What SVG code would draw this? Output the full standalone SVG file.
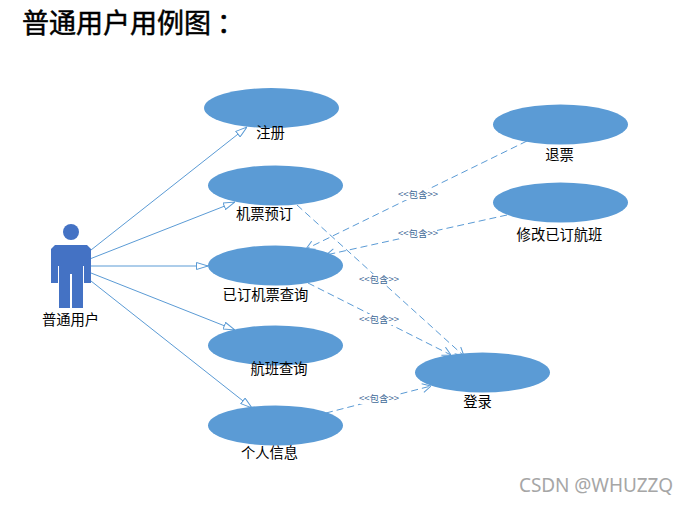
<svg xmlns="http://www.w3.org/2000/svg" width="688" height="507" viewBox="0 0 688 507">
<style>
text{font-family:"Noto Sans CJK SC","Liberation Sans",sans-serif;fill:#000}
.uc{fill:#5b9bd5}
.t{font-size:14.3px;text-anchor:middle}
.title{font-size:27px;stroke:#000;stroke-width:.5px}
.a{fill:none;stroke:#5b9bd5;stroke-width:1;marker-end:url(#tri)}
.d{fill:none;stroke:#5b9bd5;stroke-width:1;stroke-dasharray:7 4;marker-end:url(#open)}
.lb{font-size:9.5px;fill:#3f6a98;text-anchor:middle}
.bg{fill:#fff}
.wm{font-family:"Noto Sans","Liberation Sans",sans-serif;font-size:19px;fill:#a6a6a6}
</style>
<defs>
<marker id="tri" viewBox="0 0 12 8" refX="12" refY="4" markerWidth="12" markerHeight="8" markerUnits="userSpaceOnUse" orient="auto"><path d="M0.5 0.5L12 4L0.5 7.5Z" fill="#fff" stroke="#5b9bd5"/></marker>
<marker id="open" viewBox="0 0 9 10" refX="9" refY="5" markerWidth="9" markerHeight="10" markerUnits="userSpaceOnUse" orient="auto"><path d="M0.5 0.5L9 5L0.5 9.5" fill="none" stroke="#5b9bd5"/></marker>
</defs>
<rect width="688" height="507" fill="#fff"/>
<text class="title" x="22" y="33">普通用户用例图<tspan dx="6">：</tspan></text>
<g id="connectors">
<path class="a" d="M91 250L247 127"/>
<path class="a" d="M91 258.5L235 202"/>
<path class="a" d="M91 266H208"/>
<path class="a" d="M91 273L235 330"/>
<path class="a" d="M91 281L252 408"/>
<path class="d" d="M527 141L306 249"/>
<path class="d" d="M507 215L326 255"/>
<path class="d" d="M297 205L464 356"/>
<path class="d" d="M308 283L451 355"/>
<path class="d" d="M326 413L431 386"/>
<g>
<rect class="bg" x="399" y="189" width="38" height="11"/><text class="lb" x="418" y="198">&lt;&lt;包含&gt;&gt;</text>
<rect class="bg" x="399" y="228" width="38" height="11"/><text class="lb" x="418" y="236.500">&lt;&lt;包含&gt;&gt;</text>
<rect class="bg" x="360" y="274" width="38" height="11"/><text class="lb" x="379" y="282.500">&lt;&lt;包含&gt;&gt;</text>
<rect class="bg" x="360" y="314" width="38" height="11"/><text class="lb" x="379" y="322.500">&lt;&lt;包含&gt;&gt;</text>
<rect class="bg" x="360" y="393" width="38" height="11"/><text class="lb" x="379" y="402">&lt;&lt;包含&gt;&gt;</text>
</g>
</g>
<g id="actor">
<circle cx="71" cy="232" r="8" fill="#4472c4"/>
<path fill="#4472c4" d="M55 245H87L91 249V283H84V266H83V308H72V274H70V308H59V266H58V283H51V249Z"/>
<text class="t" x="70.500" y="325">普通用户</text>
</g>
<g id="uc-register"><ellipse class="uc" cx="271.5" cy="108" rx="67.5" ry="20"/><text class="t" x="270.500" y="138">注册</text></g>
<g id="uc-book"><ellipse class="uc" cx="275.5" cy="185.500" rx="67.5" ry="20"/><text class="t" x="264.500" y="219">机票预订</text></g>
<g id="uc-query"><ellipse class="uc" cx="275.5" cy="265.500" rx="67.5" ry="20"/><text class="t" x="265.500" y="300">已订机票查询</text></g>
<g id="uc-flight"><ellipse class="uc" cx="275.5" cy="345.500" rx="67.5" ry="20"/><text class="t" x="279" y="374">航班查询</text></g>
<g id="uc-info"><ellipse class="uc" cx="275.5" cy="425.500" rx="67.5" ry="20"/><text class="t" x="269.500" y="458">个人信息</text></g>
<g id="uc-refund"><ellipse class="uc" cx="560.5" cy="124.500" rx="67.5" ry="20"/><text class="t" x="559.500" y="160">退票</text></g>
<g id="uc-change"><ellipse class="uc" cx="560.5" cy="202.500" rx="67.5" ry="20"/><text class="t" x="559.500" y="240">修改已订航班</text></g>
<g id="uc-login"><ellipse class="uc" cx="482.5" cy="372.500" rx="67.5" ry="20"/><text class="t" x="477.500" y="407">登录</text></g>
<text class="wm" x="519" y="492" textLength="154">CSDN @WHUZZQ</text>
</svg>
